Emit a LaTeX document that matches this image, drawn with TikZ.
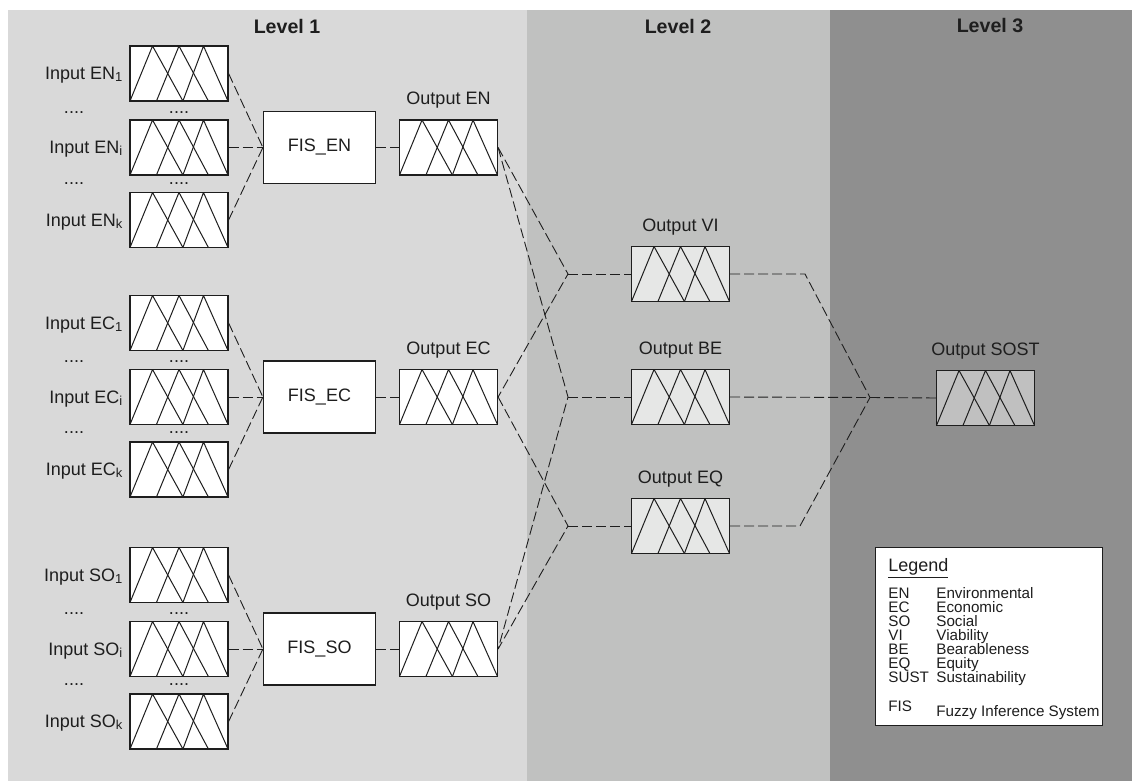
\documentclass[tikz,border=0pt]{standalone}
\usepackage{fontspec}
\setmainfont{Liberation Sans}
\usetikzlibrary{positioning,calc}

\definecolor{levA}{HTML}{D9D9D9}
\definecolor{levB}{HTML}{C0C1C0}
\definecolor{levC}{HTML}{8F8F8F}
\definecolor{mfB}{HTML}{E6E7E6}
\definecolor{mfC}{HTML}{C0C0C0}
\definecolor{ink}{HTML}{1E1E1E}

\newcommand{\lowsub}[1]{\raisebox{-0.2ex}{\fontsize{6.5}{6.5}\selectfont #1}}

\tikzset{
	every node/.style={text=ink, font=\fontsize{9}{10.8}\selectfont},
	% membership function box: three overlapping triangles
	mf/.style={draw=ink, line width=0.6pt, fill=white, minimum width=49pt, minimum height=27.5pt, inner sep=0pt,
		path picture={
			\foreach \a/\b/\c in {0/0.23/0.54,0.27/0.5/0.8,0.54/0.75/1}
				\draw[ink, line width=0.5pt] ([xshift=\a*49pt]path picture bounding box.south west)
					-- ([xshift=\b*49pt]path picture bounding box.north west)
					-- ([xshift=\c*49pt]path picture bounding box.south west);
		}},
	fis/.style={draw=ink, line width=0.6pt, fill=white, minimum width=56pt, minimum height=36pt},
	conn/.style={draw=ink, line width=0.45pt, dash pattern=on 5pt off 2pt},
	level/.style={font=\fontsize{9.8}{11}\selectfont\bfseries},
	legtxt/.style={font=\fontsize{7.6}{8}\selectfont, inner sep=0pt, anchor=base west}
}

\begin{document}
\begin{tikzpicture}[x=0.5pt, y=-0.5pt]
	\useasboundingbox (0,0) rectangle (1132,781);
	\fill[white] (0,0) rectangle (1132,781);
	\fill[levA] (8,10) rectangle (527,781);
	\fill[levB] (527,10) rectangle (830,781);
	\fill[levC] (830,10) rectangle (1132,781);

	\node[level] (lv1) at (287,26) {Level 1};
	\node[level] (lv2) at (678,26) {Level 2};
	\node[level] (lv3) at (990,26) {Level 3};

	% level 1: inputs -> FIS -> output
	\foreach \g/\y in {EN/147.5,EC/397,SO/649}{%
		\node[mf] (in\g-1) at (179,{\y-74}) {};
		\node[mf] (in\g-i) at (179,\y) {};
		\node[mf] (in\g-k) at (179,{\y+72.5}) {};
		\node[left=0pt of in\g-1, yshift=-1pt] (lin\g-1) {Input \g\lowsub{1}};
		\node[left=0pt of in\g-i, yshift=-1pt] (lin\g-i) {Input \g\lowsub{i}};
		\node[left=0pt of in\g-k, yshift=-1pt] (lin\g-k) {Input \g\lowsub{k}};
		\node (dl\g-a) at (74,{\y-35}) {....};
		\node (db\g-a) at (179,{\y-35}) {....};
		\node (dl\g-b) at (74,{\y+36}) {....};
		\node (db\g-b) at (179,{\y+36}) {....};
		\node[fis] (fis\g) at (319.5,\y) {FIS\_\g};
		\node[mf] (out\g) at (448.5,\y) {};
		\node[above=2pt of out\g] (lout\g) {Output \g};
		\draw[conn] (in\g-1.east) -- (fis\g.west);
		\draw[conn] (in\g-i.east) -- (fis\g.west);
		\draw[conn] (in\g-k.east) -- (fis\g.west);
		\draw[conn] (fis\g.east) -- (out\g.west);
	}

	% level 2
	\foreach \v/\y in {VI/274,BE/397,EQ/526}{%
		\node[mf, fill=mfB] (out\v) at (680.5,\y) {};
		\node[above=2pt of out\v] (lout\v) {Output \v};
		\coordinate (j\v) at (568,\y);
		\draw[conn] (j\v) -- (out\v.west);
	}
	\draw[conn] (outEN.east) -- (jVI) -- (outEC.east);
	\draw[conn] (outEN.east) -- (jBE) -- (outSO.east);
	\draw[conn] (outEC.east) -- (jEQ) -- (outSO.east);

	% level 3
	\node[mf, fill=mfC] (outSOST) at (985.5,398) {};
	\node[above=2pt of outSOST] (loutSOST) {Output SOST};
	\coordinate (jSOST) at (870,397.5);
	\coordinate (kVI) at (805,274);
	\coordinate (kEQ) at (800,526);
	\draw[conn] (outVI.east) -- (kVI) -- (jSOST);
	\draw[conn] (outEQ.east) -- (kEQ) -- (jSOST);
	\draw[conn] (outBE.east) -- (jSOST) -- (outSOST.west);

	% legend
	\node[draw=ink, line width=0.6pt, fill=white, anchor=north west, minimum width=113.5pt, minimum height=89pt, inner sep=0pt] (legend) at (875,547) {};
	\node[font=\fontsize{9}{10}\selectfont, inner sep=0pt, anchor=base west] (legT) at (888,571) {\underline{Legend}};
	\foreach \a/\d [count=\i] in {EN/Environmental,EC/Economic,SO/Social,VI/Viability,BE/Bearableness,EQ/Equity,SUST/Sustainability}{%
		\node[legtxt] (lgA\i) at (888,{584+14.1*\i}) {\a};
		\node[legtxt] (lgD\i) at (936,{584+14.1*\i}) {\d};
	}
	\node[legtxt] (lgA8) at (888,711) {FIS};
	\node[legtxt] (lgD8) at (936,716) {Fuzzy Inference System};
\end{tikzpicture}
\end{document}
